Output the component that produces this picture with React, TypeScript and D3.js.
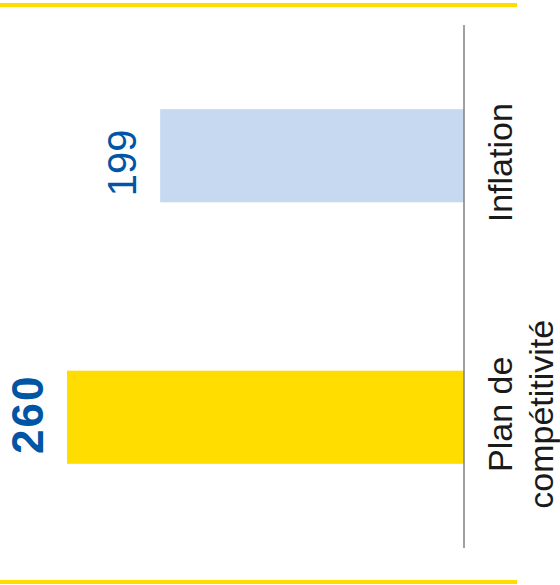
import React from "react";
import * as d3 from "d3";

const categories = ["Inflation", "Plan de compétitivité"];
const categoryLines = [["Inflation"], ["Plan de", "compétitivité"]];
const values = [199, 260];
const valueLabels = ["199", "260"];

const W = 560;
const H = 585;
const YELLOW = "#FFDD00";
const LIGHT_BLUE = "#C6D9F1";
const TEXT_BLUE = "#0055A4";
const barColors = [LIGHT_BLUE, YELLOW];
const labelBold = [false, true];
const labelSize = [40, 44];
const nudge = [7, -3];

export default function App() {
  const y = d3.scaleBand<string>().domain(categories).range([25, 548]).paddingInner(0.644).paddingOuter(0.322);
  const x = d3.scaleLinear().domain([0, 260]).range([464, 67]);
  const bw = y.bandwidth();

  return (
    <svg width={W} height={H} style={{ position: "absolute", left: 0, top: 0, display: "block" }}
      fontFamily="'Liberation Sans', Arial, Helvetica, sans-serif">
      <rect x={0} y={0} width={W} height={H} fill="#fff" />
      <line x1={0} x2={517} y1={5} y2={5} stroke={YELLOW} strokeWidth={4} />
      <line x1={0} x2={517} y1={582} y2={582} stroke={YELLOW} strokeWidth={4} />
      {categories.map((c, i) => {
        const yc = (y(c) as number) + bw / 2;
        return (
          <g key={c}>
            <rect x={x(values[i])} y={y(c)} width={x(0) - x(values[i])} height={bw} fill={barColors[i]} />
            <text
              transform={`translate(${x(values[i]) - 24},${yc + nudge[i]}) rotate(-90)`}
              textAnchor="middle"
              fill={TEXT_BLUE}
              fontSize={labelSize[i]}
              fontWeight={labelBold[i] ? "bold" : "normal"}
              letterSpacing={labelBold[i] ? 2 : 0}
            >
              {valueLabels[i]}
            </text>
            {categoryLines[i].map((ln, j) => (
              <text
                key={j}
                transform={`translate(${512 + j * 41},${yc + nudge[i]}) rotate(-90)`}
                textAnchor="middle"
                fill="#1a1a1a"
                fontSize={34}
              >
                {ln}
              </text>
            ))}
          </g>
        );
      })}
      <line x1={x(0)} x2={x(0)} y1={25} y2={548} stroke="#808080" strokeWidth={1.5} />
    </svg>
  );
}
